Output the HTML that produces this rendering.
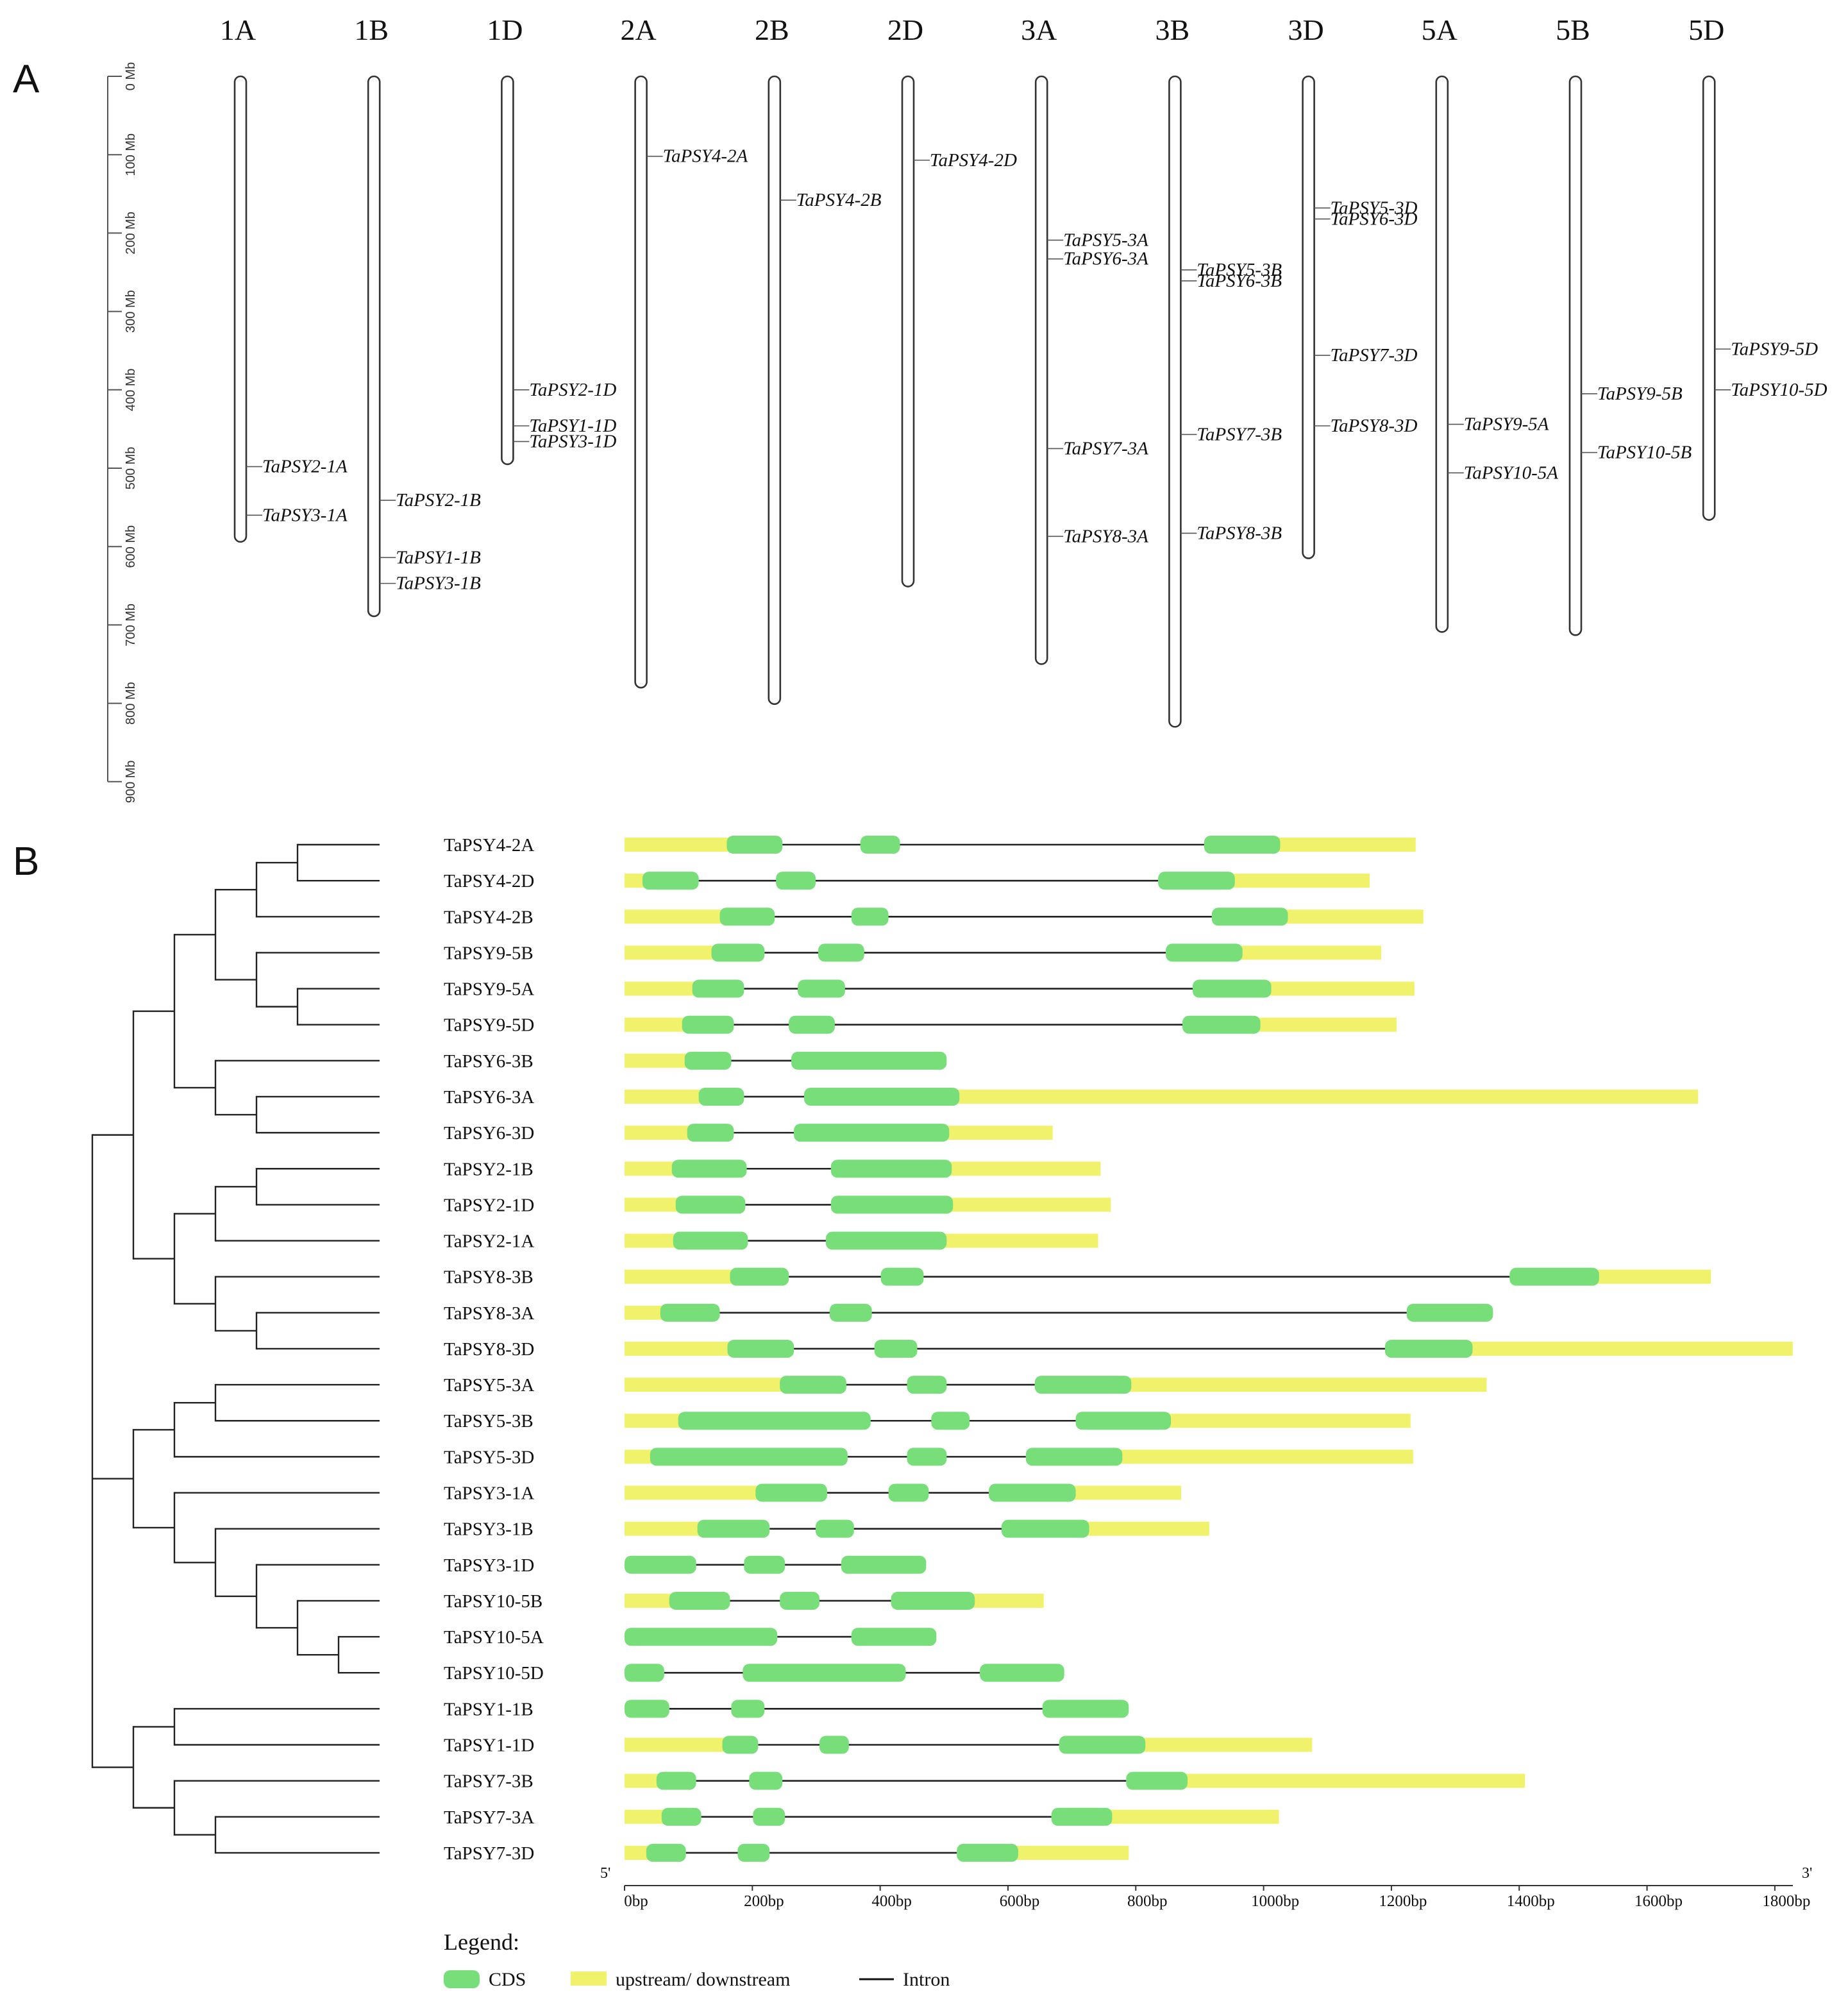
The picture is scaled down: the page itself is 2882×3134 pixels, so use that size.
<!DOCTYPE html>
<html><head><meta charset="utf-8"><style>
html,body{margin:0;padding:0;background:#fff}
svg{display:block}
text{font-family:"Liberation Serif",serif;fill:#111}
</style></head><body>
<svg id="fig" width="2882" height="3134" viewBox="0 0 1441 1567" xmlns="http://www.w3.org/2000/svg">
<text x="10" y="72" style="font-family:'Liberation Sans',sans-serif;font-size:31px">A</text>
<text x="10" y="682" style="font-family:'Liberation Sans',sans-serif;font-size:31px">B</text>
<g id="pa"></g>
<g id="pb"></g>
<g>
<text x="346" y="1520" style="font-size:18px">Legend:</text>
<rect x="346" y="1536" width="28" height="14" rx="5" fill="#77de7a"/>
<text x="381" y="1548" style="font-size:15px">CDS</text>
<rect x="445" y="1537" width="28" height="11" fill="#f1f26b"/>
<text x="480" y="1548" style="font-size:15px">upstream/ downstream</text>
<line x1="670" y1="1543" x2="697" y2="1543" stroke="#111" stroke-width="1.5"/>
<text x="704" y="1548" style="font-size:15px">Intron</text>
</g>
</svg>
<script>
// ---------- Panel A data ----------
const chromNames=["1A","1B","1D","2A","2B","2D","3A","3B","3D","5A","5B","5D"];
const chromLengths=[594,689,495,780,801,651,750,830,615,709,713,566];
const rulerTicks=[0,100,200,300,400,500,600,700,800,900];
const geneChrom=["1A","1A","1B","1B","1B","1D","1D","1D","2A","2B","2D","3A","3A","3A","3A","3B","3B","3B","3B","3D","3D","3D","3D","5A","5A","5B","5B","5D","5D"];
const geneLabels=["TaPSY2-1A","TaPSY3-1A","TaPSY2-1B","TaPSY1-1B","TaPSY3-1B","TaPSY2-1D","TaPSY1-1D","TaPSY3-1D","TaPSY4-2A","TaPSY4-2B","TaPSY4-2D","TaPSY5-3A","TaPSY6-3A","TaPSY7-3A","TaPSY8-3A","TaPSY5-3B","TaPSY6-3B","TaPSY7-3B","TaPSY8-3B","TaPSY5-3D","TaPSY6-3D","TaPSY7-3D","TaPSY8-3D","TaPSY9-5A","TaPSY10-5A","TaPSY9-5B","TaPSY10-5B","TaPSY9-5D","TaPSY10-5D"];
const genePosMb=[498,560,541,614,647,400,446,466,102,158,107,209,233,475,587,247,261,457,583,168,182,356,446,444,506,405,480,348,400];

// ---------- Panel B data ----------
const rowGenes=["TaPSY4-2A","TaPSY4-2D","TaPSY4-2B","TaPSY9-5B","TaPSY9-5A","TaPSY9-5D","TaPSY6-3B","TaPSY6-3A","TaPSY6-3D","TaPSY2-1B","TaPSY2-1D","TaPSY2-1A","TaPSY8-3B","TaPSY8-3A","TaPSY8-3D","TaPSY5-3A","TaPSY5-3B","TaPSY5-3D","TaPSY3-1A","TaPSY3-1B","TaPSY3-1D","TaPSY10-5B","TaPSY10-5A","TaPSY10-5D","TaPSY1-1B","TaPSY1-1D","TaPSY7-3B","TaPSY7-3A","TaPSY7-3D"];
const geneLengthBp=[1238,1166,1250,1184,1236,1208,504,1680,670,745,761,741,1700,1359,1828,1349,1230,1234,871,915,472,656,488,688,789,1076,1409,1024,789];
const hasUTR=[1,1,1,1,1,1,1,1,1,1,1,1,1,1,1,1,1,1,1,1,0,1,0,0,0,1,1,1,1];
const cdsBp=[
[[160,247],[369,431],[907,1026]],
[[28,116],[237,299],[835,955]],
[[149,235],[355,413],[919,1038]],
[[136,219],[303,375],[847,967]],
[[106,187],[271,345],[889,1012]],
[[90,171],[257,329],[873,995]],
[[94,167],[261,504]],
[[116,187],[281,524]],
[[98,171],[265,508]],
[[74,191],[323,512]],
[[80,189],[323,514]],
[[76,193],[315,504]],
[[165,257],[401,468],[1385,1525]],
[[56,149],[321,387],[1224,1359]],
[[161,265],[391,458],[1190,1327]],
[[243,347],[442,504],[642,793]],
[[84,385],[480,540],[706,855]],
[[40,349],[442,504],[628,779]],
[[205,317],[413,476],[570,706]],
[[114,227],[299,359],[590,727]],
[[0,112],[187,251],[339,472]],
[[70,165],[243,305],[417,548]],
[[0,239],[355,488]],
[[0,62],[185,440],[556,688]],
[[0,70],[167,219],[654,789]],
[[153,209],[305,351],[680,815]],
[[50,112],[195,247],[785,881]],
[[58,120],[201,251],[668,763]],
[[34,96],[177,227],[520,616]]];
const bpTicks=[0,200,400,600,800,1000,1200,1400,1600,1800];
const tree={x:72,c:[
 {x:104,c:[
   {x:136,c:[
     {x:168,c:[{x:200,c:[{x:232,c:[0,1]},2]},{x:200,c:[3,{x:232,c:[4,5]}]}]},
     {x:168,c:[6,{x:200,c:[7,8]}]}]},
   {x:136,c:[
     {x:168,c:[{x:200,c:[9,10]},11]},
     {x:168,c:[12,{x:200,c:[13,14]}]}]}]},
 {x:104,c:[
   {x:136,c:[{x:168,c:[15,16]},17]},
   {x:136,c:[18,{x:168,c:[19,{x:200,c:[20,{x:232,c:[21,{x:264,c:[22,23]}]}]}]}]}]},
 {x:104,c:[
   {x:136,c:[24,25]},
   {x:136,c:[26,{x:168,c:[27,28]}]}]}]};

const NS="http://www.w3.org/2000/svg";
function mk(parent,tag,attrs,txt){const e=document.createElementNS(NS,tag);for(const k in attrs)e.setAttribute(k,attrs[k]);if(txt!==undefined)e.textContent=txt;parent.appendChild(e);return e;}

// ---------- draw panel A ----------
const pa=document.getElementById('pa');
const yMb=mb=>59.5+mb*0.611;
const chromX=i=>187.5+i*104.1;
let el=mk(pa,'line',{x1:84,y1:yMb(0),x2:84,y2:yMb(900),stroke:'#555','stroke-width':1});


rulerTicks.forEach(t=>{
 let l=mk(pa,'line',{x1:84,y1:yMb(t),x2:95,y2:yMb(t),stroke:'#555','stroke-width':1});
 
 
 let tx=mk(pa,'text',{x:0,y:0,transform:`translate(105,${yMb(t)}) rotate(-90)`,'text-anchor':'middle',style:"font-family:'Liberation Sans',sans-serif;font-size:10px;fill:#333"},t+' Mb');
 
 
});
chromNames.forEach((n,i)=>{
 const cx=chromX(i);
 let t=mk(pa,'text',{x:cx-2,y:31,'text-anchor':'middle',style:'font-size:23px'},n);
 
 
 let r=mk(pa,'rect',{x:cx-4.5,y:yMb(0),width:9,height:yMb(chromLengths[i])-yMb(0),rx:4.5,fill:'#fff',stroke:'#333','stroke-width':1.3});
 
 
});
geneLabels.forEach((g,i)=>{
 const ci=chromNames.indexOf(geneChrom[i]);const cx=chromX(ci);const y=yMb(genePosMb[i]);
 let l=mk(pa,'line',{x1:cx+4.5,y1:y,x2:cx+17,y2:y,stroke:'#555','stroke-width':0.8});
 
 
 let t=mk(pa,'text',{x:cx+17,y:y+4.5,style:'font-size:14.5px;font-style:italic'},g);
 
 
});

// ---------- draw panel B ----------
const pb=document.getElementById('pb');
const rowY=i=>658.5+i*28.07;
const xBp=bp=>487+bp*0.4983;
function drawNode(n){
 if(typeof n==='number'){return rowY(n);}
 const ys=n.c.map(drawNode);
 const xs=n.c.map(c=>typeof c==='number'?296:c.x);
 n.c.forEach((c,k)=>{
  let l=mk(pb,'line',{x1:n.x,y1:ys[k],x2:xs[k],y2:ys[k],stroke:'#222','stroke-width':1.2});
  
  
 });
 const y0=ys[0],y1=ys[ys.length-1];
 let v=mk(pb,'line',{x1:n.x,y1:y0-0.6,x2:n.x,y2:y1+0.6,stroke:'#222','stroke-width':1.2});
 
 
 return (y0+y1)/2;
}
drawNode(tree);
rowGenes.forEach((g,i)=>{
 const y=rowY(i);
 let t=mk(pb,'text',{x:346,y:y+5,style:'font-size:14.5px'},g);
 
 
 const ex=cdsBp[i];
 if(hasUTR[i]){
  const first=ex[0][0], last=ex[ex.length-1][1];
  if(first>0){
   let u=mk(pb,'rect',{x:xBp(0),y:y-5.5,width:xBp(first+5)-xBp(0),height:11,fill:'#f1f26b'});
   
   
  }
  if(geneLengthBp[i]>last){
   let u=mk(pb,'rect',{x:xBp(last-5),y:y-5.5,width:xBp(geneLengthBp[i])-xBp(last-5),height:11,fill:'#f1f26b'});
   
   
  }
 }
 let l=mk(pb,'line',{x1:xBp(ex[0][1]),y1:y,x2:xBp(ex[ex.length-1][0]),y2:y,stroke:'#222','stroke-width':1.3});
 
 
 ex.forEach(e=>{
  let r=mk(pb,'rect',{x:xBp(e[0]),y:y-7,width:xBp(e[1])-xBp(e[0]),height:14,rx:5,fill:'#77de7a'});
  
  
 });
});
let ax=mk(pb,'line',{x1:xBp(0),y1:1470,x2:1398,y2:1470,stroke:'#333','stroke-width':1});


bpTicks.forEach(b=>{
 let tk=mk(pb,'line',{x1:xBp(b),y1:1470,x2:xBp(b),y2:1474,stroke:'#333','stroke-width':1});
 
 
 let t=mk(pb,'text',{x:xBp(b)+9,y:1486,'text-anchor':'middle',style:'font-size:12.5px'},b+'bp');
 
 
});
let p5=mk(pb,'text',{x:468,y:1464,style:'font-size:12px'},"5'");


let p3=mk(pb,'text',{x:1405,y:1464,style:'font-size:12px'},"3'");


</script>
</body></html>
